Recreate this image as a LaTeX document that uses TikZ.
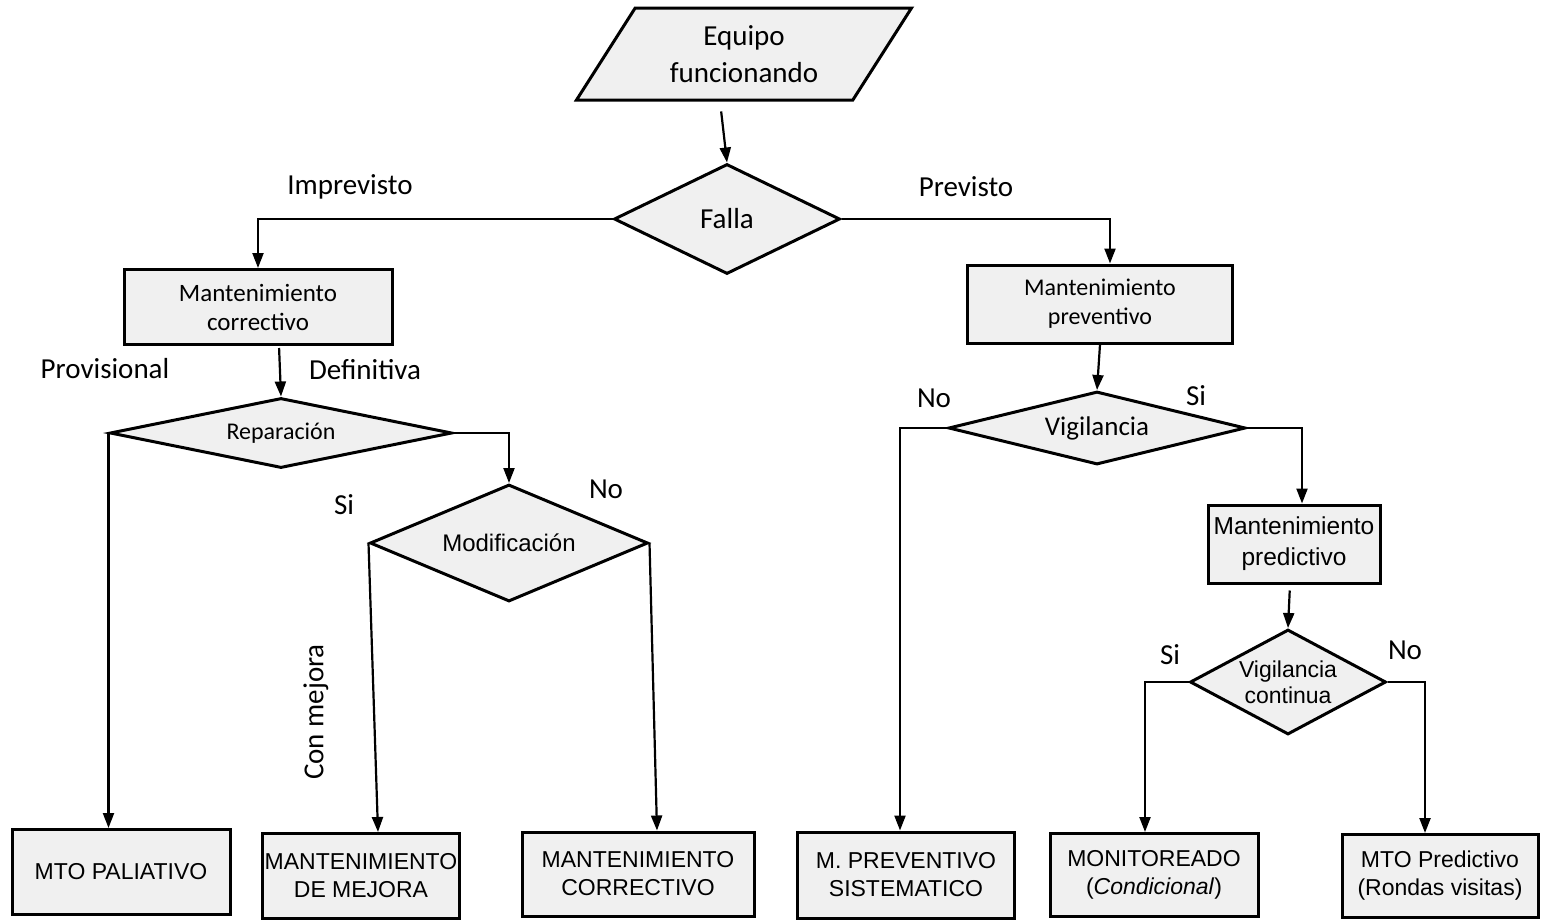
\documentclass[tikz,border=0pt]{standalone}
\usepackage{fontspec}
\setmainfont{Carlito}
\newfontfamily\arialf{Liberation Sans}
\usetikzlibrary{shapes.geometric,arrows.meta}
\newcommand{\fsz}[2]{\fontsize{#1}{#2}\selectfont}
\begin{document}
\begin{tikzpicture}[x=1pt,y=-1pt,
  shapefill/.style={draw, line width=3pt, fill=black!6, inner sep=0pt, align=center},
  box/.style={shapefill, rectangle},
  dec/.style={shapefill, diamond},
  para/.style={shapefill, trapezium, trapezium left angle=55, trapezium right angle=125, trapezium stretches=true},
  conn/.style={line width=2.2pt},
  arr/.style={conn, -{Triangle[length=15pt,width=11pt]}},
  lab/.style={font=\fsz{29}{32}, inner sep=0pt},
  bigtxt/.style={font=\fsz{25}{29}},
  sanstxt/.style={font=\arialf\fsz{23}{28}}
]
\useasboundingbox (0,0) rectangle (1541,921);

% top
\node[para, minimum width=336, minimum height=92, font=\fsz{29}{37}] (eq) at (744,54) {Equipo\\funcionando};
\node[dec, aspect=2.05, minimum width=226, minimum height=110, font=\fsz{29}{30}] (falla) at (727,219) {Falla};

% corrective branch
\node[box, minimum width=268, minimum height=75, bigtxt] (corr) at (258,307) {Mantenimiento\\correctivo};
\node[dec, aspect=4.89, minimum width=342, minimum height=70, font=\fsz{24}{28}] (rep) at (281,433) {Reparación};
\node[dec, aspect=2.38, minimum width=278, minimum height=117, font=\arialf\fsz{24}{28}] (mod) at (509,543) {Modificación};

% preventive branch
\node[box, minimum width=265, minimum height=78, font=\fsz{24}{29}] (prev) at (1100,304) {Mantenimiento\\preventivo};
\node[dec, aspect=4.07, minimum width=297, minimum height=73, font=\fsz{27}{30}] (vig) at (1097,428) {Vigilancia};
\node[box, minimum width=172, minimum height=78, font=\arialf\fsz{24.5}{31}] (pred) at (1294,544) {Mantenimiento\\predictivo};
\node[dec, aspect=1.87, minimum width=196, minimum height=105, font=\arialf\fsz{23}{26}] (vigc) at (1288,682) {Vigilancia\\continua};

% bottom boxes
\node[box, minimum width=218, minimum height=85, sanstxt] (pal) at (121,872) {MTO PALIATIVO};
\node[box, minimum width=197, minimum height=85, sanstxt] (mej) at (361,876) {MANTENIMIENTO\\DE MEJORA};
\node[box, minimum width=232, minimum height=84, sanstxt] (mcor) at (638,874) {MANTENIMIENTO\\CORRECTIVO};
\node[box, minimum width=217, minimum height=86, sanstxt] (sis) at (906,875) {M. PREVENTIVO\\SISTEMATICO};
\node[box, minimum width=208, minimum height=83, sanstxt] (mon) at (1154,875) {MONITOREADO\\(\textit{Condicional})};
\node[box, minimum width=196, minimum height=83, sanstxt] (mtop) at (1440,876) {MTO Predictivo\\(Rondas visitas)};

% connectors
\draw[arr, shorten <=10pt] ([xshift=-24pt]eq.south) -- (falla.north);
\draw[arr] (falla.west) -| (corr.north);
\draw[arr] (falla.east) -| ([xshift=10pt]prev.north);
\draw[arr, shorten <=2pt] ([xshift=21pt]corr.south) -- (rep.north);
\draw[arr] (rep.west) -- (rep.west |- pal.north);
\draw[arr] (rep.east) -| (mod.north);
\draw[arr] (mod.west) -- ([xshift=17pt]mej.north);
\draw[arr] (mod.east) -- ([xshift=19pt]mcor.north);
\draw[arr] (prev.south) -- (vig.north);
\draw[arr] (vig.west) -| ([xshift=-6pt]sis.north);
\draw[arr] (vig.east) -| ([xshift=8pt]pred.north);
\draw[arr, shorten <=6pt] ([xshift=-4pt]pred.south) -- (vigc.north);
\draw[arr] (vigc.west) -| ([xshift=-9pt]mon.north);
\draw[arr] (vigc.east) -| ([xshift=-15pt]mtop.north);

% labels
\node[lab] (l1) at (350,187) {Imprevisto};
\node[lab] (l2) at (966,187) {Previsto};
\node[lab] (l3) at (105,369) {Provisional};
\node[lab] (l4) at (365,370) {Definitiva};
\node[lab] (l5) at (344,505) {Si};
\node[lab] (l6) at (606,489) {No};
\node[lab, rotate=90] (l7) at (316,712) {Con mejora};
\node[lab] (l8) at (934,398) {No};
\node[lab] (l9) at (1196,396) {Si};
\node[lab] (l10) at (1170,655) {Si};
\node[lab] (l11) at (1405,650) {No};
\end{tikzpicture}
\end{document}
